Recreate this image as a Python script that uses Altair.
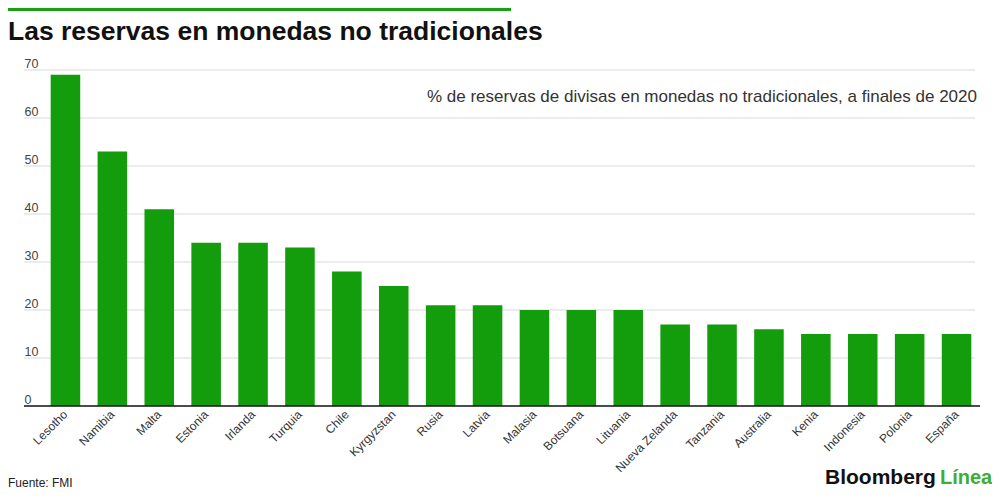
import altair as alt
import pandas as pd

countries = ["Lesotho", "Namibia", "Malta", "Estonia", "Irlanda", "Turquia", "Chile",
             "Kyrgyzstan", "Rusia", "Latvia", "Malasia", "Botsuana", "Lituania",
             "Nueva Zelanda", "Tanzania", "Australia", "Kenia", "Indonesia", "Polonia", "España"]
values = [69, 53, 41, 34, 34, 33, 28, 25, 21, 21, 20, 20, 20, 17, 17, 16, 15, 15, 15, 15]
y_ticks = [0, 10, 20, 30, 40, 50, 60, 70]

title_text = "Las reservas en monedas no tradicionales"
subtitle_text = "% de reservas de divisas en monedas no tradicionales, a finales de 2020"
source_text = "Fuente: FMI"

BAR = "#139c0b"
W, H = 938, 336

df = pd.DataFrame({"pais": countries, "valor": values})
grid_df = pd.DataFrame({"v": [t for t in y_ticks if t > 0]})
zero_df = pd.DataFrame({"v": [0]})

yscale = alt.Scale(domain=[0, 70], nice=False)

bars = alt.Chart(df).mark_bar(color=BAR).encode(
    x=alt.X("pais:N", sort=countries,
            scale=alt.Scale(paddingInner=0.37, paddingOuter=0.185),
            axis=alt.Axis(title=None, labelAngle=-45, labelAlign="right",
                          labelBaseline="middle", labelPadding=6, ticks=False,
                          tickSize=0, domain=False, labelFontSize=12,
                          labelColor="#333333", labelFont="Liberation Sans")),
    y=alt.Y("valor:Q", scale=yscale,
            axis=alt.Axis(title=None, values=y_ticks, grid=False, ticks=False,
                          tickSize=0, domain=False, labelAlign="left",
                          labelPadding=18, labelBaseline="alphabetic",
                          labelOffset=-3, labelFontSize=12.5,
                          labelColor="#444444", labelFont="Liberation Sans")),
)

grid = alt.Chart(grid_df).mark_rule(color="#d9d9d9", strokeWidth=1).encode(
    y=alt.Y("v:Q", scale=yscale),
    x=alt.value(-18), x2=alt.value(933),
)

zero = alt.Chart(zero_df).mark_rule(color="#111111", strokeWidth=1.5).encode(
    y=alt.Y("v:Q", scale=yscale),
    x=alt.value(-18), x2=alt.value(938),
)

topbar = alt.Chart(pd.DataFrame({"a": [0]})).mark_rect(color="#17a00f").encode(
    x=alt.value(-34), x2=alt.value(469), y=alt.value(-62), y2=alt.value(-59)
)

def label(text, x, y, size, color, weight="normal", align="left", font="Liberation Sans"):
    return alt.Chart(pd.DataFrame({"t": [text]})).mark_text(
        align=align, baseline="alphabetic", fontSize=size, color=color,
        fontWeight=weight, font=font
    ).encode(text="t:N", x=alt.value(x), y=alt.value(y))

title = label(title_text, -34, -30, 26.5, "#111111", "bold")
subtitle = label(subtitle_text, 935, 32, 17, "#333333", align="right")
source = label(source_text, -34, 417, 12, "#222222")
logo1 = label("Bloomberg", 783, 414, 21, "#111111", "bold")
logo2 = label("Línea", 898, 414, 20, "#3cae34", "bold")

chart = alt.layer(grid, bars, zero, topbar, title, subtitle, source, logo1, logo2).properties(
    width=W, height=H,
    background="white",
    autosize=alt.AutoSizeParams(type="none"),
    padding={"left": 34, "top": 62, "right": 12, "bottom": 86},
).configure_view(stroke=None)

chart.save("out.html", embed_options={"renderer": "svg", "actions": False})
